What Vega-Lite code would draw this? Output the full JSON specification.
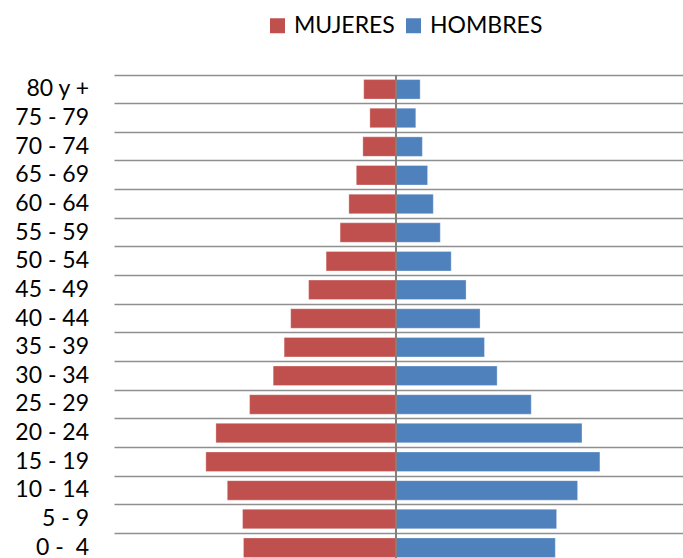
{
  "$schema": "https://vega.github.io/schema/vega-lite/v6.json",
  "autosize": {"type": "none"},
  "padding": {"left": 114, "top": 75, "right": 0, "bottom": 0},
  "width": 569,
  "height": 487,
  "background": "white",
  "config": {"view": {"stroke": null}, "font": "Lato"},
  "data": {"values": [
    {"edad": "80 y +", "sexo": "MUJERES", "valor": -0.74},
    {"edad": "75 - 79", "sexo": "MUJERES", "valor": -0.60},
    {"edad": "70 - 74", "sexo": "MUJERES", "valor": -0.76},
    {"edad": "65 - 69", "sexo": "MUJERES", "valor": -0.91},
    {"edad": "60 - 64", "sexo": "MUJERES", "valor": -1.08},
    {"edad": "55 - 59", "sexo": "MUJERES", "valor": -1.28},
    {"edad": "50 - 54", "sexo": "MUJERES", "valor": -1.60},
    {"edad": "45 - 49", "sexo": "MUJERES", "valor": -2.00},
    {"edad": "40 - 44", "sexo": "MUJERES", "valor": -2.41},
    {"edad": "35 - 39", "sexo": "MUJERES", "valor": -2.56},
    {"edad": "30 - 34", "sexo": "MUJERES", "valor": -2.81},
    {"edad": "25 - 29", "sexo": "MUJERES", "valor": -3.35},
    {"edad": "20 - 24", "sexo": "MUJERES", "valor": -4.12},
    {"edad": "15 - 19", "sexo": "MUJERES", "valor": -4.35},
    {"edad": "10 - 14", "sexo": "MUJERES", "valor": -3.86},
    {"edad": "5 - 9", "sexo": "MUJERES", "valor": -3.51},
    {"edad": "0 - \u00a04", "sexo": "MUJERES", "valor": -3.49},
    {"edad": "80 y +", "sexo": "HOMBRES", "valor": 0.55},
    {"edad": "75 - 79", "sexo": "HOMBRES", "valor": 0.45},
    {"edad": "70 - 74", "sexo": "HOMBRES", "valor": 0.60},
    {"edad": "65 - 69", "sexo": "HOMBRES", "valor": 0.72},
    {"edad": "60 - 64", "sexo": "HOMBRES", "valor": 0.85},
    {"edad": "55 - 59", "sexo": "HOMBRES", "valor": 1.01},
    {"edad": "50 - 54", "sexo": "HOMBRES", "valor": 1.26},
    {"edad": "45 - 49", "sexo": "HOMBRES", "valor": 1.60},
    {"edad": "40 - 44", "sexo": "HOMBRES", "valor": 1.92},
    {"edad": "35 - 39", "sexo": "HOMBRES", "valor": 2.02},
    {"edad": "30 - 34", "sexo": "HOMBRES", "valor": 2.31},
    {"edad": "25 - 29", "sexo": "HOMBRES", "valor": 3.09},
    {"edad": "20 - 24", "sexo": "HOMBRES", "valor": 4.25},
    {"edad": "15 - 19", "sexo": "HOMBRES", "valor": 4.66},
    {"edad": "10 - 14", "sexo": "HOMBRES", "valor": 4.15},
    {"edad": "5 - 9", "sexo": "HOMBRES", "valor": 3.67},
    {"edad": "0 - \u00a04", "sexo": "HOMBRES", "valor": 3.64}
  ]},
  "layer": [
    {
      "mark": {"type": "bar", "size": 19.5, "stroke": "white", "strokeWidth": 0.5, "strokeOpacity": 0.6},
      "encoding": {
        "y": {
          "field": "edad", "type": "nominal",
          "sort": ["80 y +", "75 - 79", "70 - 74", "65 - 69", "60 - 64", "55 - 59", "50 - 54", "45 - 49", "40 - 44", "35 - 39", "30 - 34", "25 - 29", "20 - 24", "15 - 19", "10 - 14", "5 - 9", "0 - \u00a04"],
          "scale": {"paddingInner": 0, "paddingOuter": 0},
          "axis": {
            "title": null, "domain": false, "ticks": false, "grid": true, "bandPosition": 0,
            "gridColor": "#8f8f8f", "gridWidth": 1.5,
            "labelFont": "Lato", "labelFontSize": 23, "labelColor": "#000000", "labelPadding": 25.5
          }
        },
        "x": {
          "field": "valor", "type": "quantitative",
          "scale": {"domain": [-6.45, 6.56], "nice": false, "zero": true},
          "axis": null
        },
        "color": {
          "field": "sexo", "type": "nominal",
          "scale": {"domain": ["MUJERES", "HOMBRES"], "range": ["#C0504D", "#4F81BD"]},
          "legend": {
            "title": null, "orient": "none", "direction": "horizontal",
            "legendX": 152, "legendY": -61, "padding": 0,
            "symbolType": "square", "symbolSize": 225, "symbolStrokeWidth": 0,
            "labelFont": "Lato", "labelFontSize": 23, "labelColor": "#000000",
            "labelOffset": 5, "columnPadding": 7
          }
        }
      }
    },
    {
      "mark": {"type": "rule", "color": "#808080", "strokeWidth": 1.5},
      "encoding": {"x": {"datum": 0}}
    }
  ]
}
